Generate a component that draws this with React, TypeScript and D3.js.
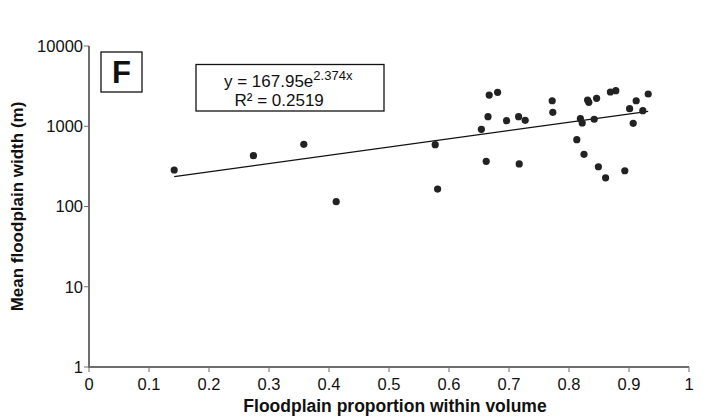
import React from "react";
import * as d3 from "d3";

// Floodplain proportion within volume (x) and mean floodplain width in metres (y)
const proportion = [
  0.142, 0.274, 0.358, 0.412, 0.577, 0.581, 0.654, 0.662, 0.665, 0.667, 0.681, 0.696,
  0.716, 0.717, 0.727, 0.772, 0.773, 0.813, 0.819, 0.822, 0.825, 0.831, 0.833, 0.842,
  0.846, 0.849, 0.861, 0.869, 0.878, 0.893, 0.901, 0.907, 0.912, 0.923, 0.932,
];
const widthM = [
  285, 430, 596, 115, 589, 165, 916, 366, 1315, 2449, 2650, 1172,
  1315, 339, 1186, 2080, 1493, 680, 1242, 1097, 447, 2124, 1987, 1222,
  2230, 313, 228, 2673, 2774, 279, 1655, 1089, 2080, 1564, 2523,
];

// Exponential trend: y = a * e^(b x)
const trendA = 167.95;
const trendB = 2.374;
const rSquared = "0.2519";

const xTicks = [0, 0.1, 0.2, 0.3, 0.4, 0.5, 0.6, 0.7, 0.8, 0.9, 1];
const yTicks = [1, 10, 100, 1000, 10000];

const W = 705;
const H = 417;
const M = { left: 89, right: 689, top: 46, bottom: 367 };
const FONT = "'Liberation Sans', Arial, sans-serif";
const AXIS = "#6e6e6e";

export default function App() {
  const x = d3.scaleLinear().domain([0, 1]).range([M.left, M.right]);
  const y = d3.scaleLog().domain([1, 10000]).range([M.bottom, M.top]);

  const xMin = d3.min(proportion) as number;
  const xMax = d3.max(proportion) as number;
  const trend = d3
    .line<number>()
    .x((v) => x(v))
    .y((v) => y(trendA * Math.exp(trendB * v)));
  const trendPath = trend([xMin, xMax]) ?? "";

  return (
    <svg
      width={W}
      height={H}
      style={{ position: "absolute", left: 0, top: 0, background: "#fff" }}
      fontFamily={FONT}
    >
      {/* axes */}
      <line x1={M.left} x2={M.left} y1={M.top} y2={M.bottom + 1} stroke={AXIS} strokeWidth={2} />
      <line x1={M.left - 1} x2={M.right} y1={M.bottom} y2={M.bottom} stroke={AXIS} strokeWidth={2} />

      {yTicks.map((t) => (
        <g key={"y" + t}>
          <line x1={M.left - 5} x2={M.left} y1={y(t)} y2={y(t)} stroke={AXIS} strokeWidth={1} />
          <text x={M.left - 6} y={y(t)} dy="0.36em" textAnchor="end" fontSize={16.5} fill="#111">
            {t}
          </text>
        </g>
      ))}

      {xTicks.map((t) => (
        <g key={"x" + t}>
          <line x1={x(t)} x2={x(t)} y1={M.bottom} y2={M.bottom + 5} stroke={AXIS} strokeWidth={1} />
          <text x={x(t)} y={M.bottom + 23} textAnchor="middle" fontSize={16.5} fill="#111">
            {t}
          </text>
        </g>
      ))}

      {/* axis titles */}
      <text
        x={(M.left + M.right) / 2 + 6}
        y={411.5}
        textAnchor="middle"
        fontSize={17.5}
        fontWeight="bold"
        fill="#111"
      >
        Floodplain proportion within volume
      </text>
      <text
        transform={`translate(23, ${(M.top + M.bottom) / 2}) rotate(-90)`}
        textAnchor="middle"
        fontSize={17}
        fontWeight="bold"
        fill="#111"
      >
        Mean floodplain width (m)
      </text>

      {/* panel label */}
      <rect x={101} y={52} width={41} height={40} fill="#fff" stroke="#111" strokeWidth={1.3} />
      <text x={121.5} y={83.3} textAnchor="middle" fontSize={31} fontWeight="bold" fill="#111">
        F
      </text>

      {/* trend equation */}
      <rect x={196} y={64.5} width={188} height={46.5} fill="#fff" stroke="#111" strokeWidth={1.3} />
      <text x={224} y={87} fontSize={17} fill="#111">
        y = 167.95e
        <tspan fontSize={13} dy={-7.5}>
          {trendB}x
        </tspan>
      </text>
      <text x={234.5} y={105.5} fontSize={17} fill="#111">
        R² = {rSquared}
      </text>

      {/* trend line */}
      <path d={trendPath} fill="none" stroke="#111" strokeWidth={1.2} />

      {/* observations */}
      {proportion.map((p, i) => (
        <circle key={i} cx={x(p)} cy={y(widthM[i])} r={3.6} fill="#222" />
      ))}
    </svg>
  );
}
